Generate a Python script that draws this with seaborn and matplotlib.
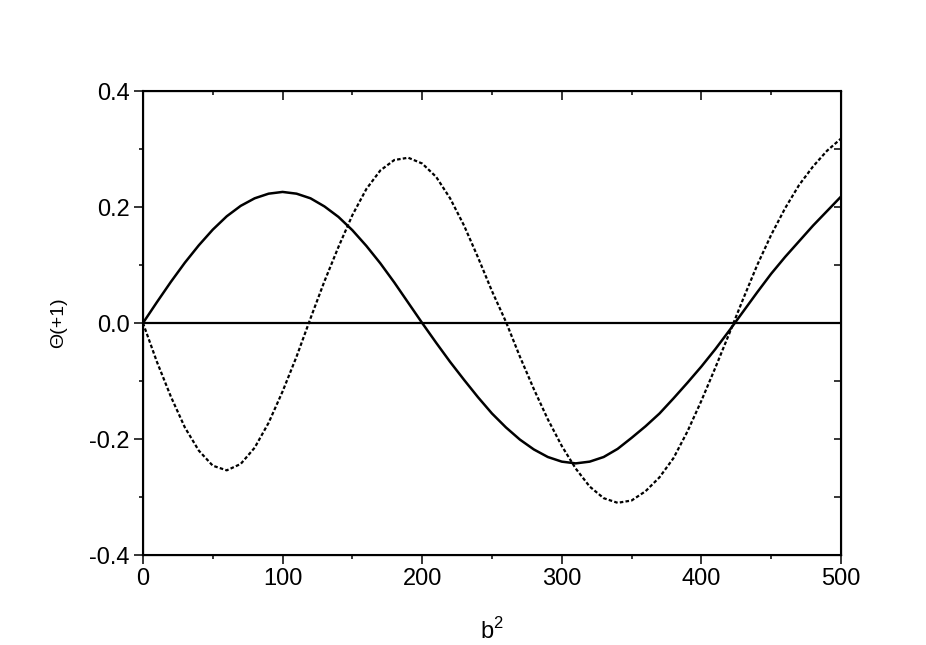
import numpy as np
import pandas as pd
import seaborn as sns
import matplotlib.pyplot as plt
from matplotlib.ticker import MultipleLocator

# values, b^2 every 10
b2 = list(range(0, 510, 10))

theta_solid = [0.000, 0.036, 0.071, 0.104, 0.134, 0.161, 0.184, 0.202, 0.215, 0.223,
               0.226, 0.223, 0.215, 0.201, 0.183, 0.160, 0.133, 0.103, 0.070, 0.035,
               0.000, -0.034, -0.067, -0.098, -0.128, -0.156, -0.180, -0.201, -0.218, -0.231,
               -0.239, -0.242, -0.239, -0.231, -0.217, -0.198, -0.178, -0.156, -0.130, -0.103,
               -0.075, -0.045, -0.013, 0.020, 0.053, 0.085, 0.114, 0.141, 0.168, 0.193,
               0.218]

theta_dotted = [0.000, -0.067, -0.127, -0.180, -0.220, -0.246, -0.254, -0.243, -0.215, -0.172,
                -0.118, -0.058, 0.008, 0.072, 0.131, 0.186, 0.231, 0.263, 0.281, 0.285,
                0.275, 0.252, 0.215, 0.168, 0.113, 0.055, 0.002, -0.058, -0.114, -0.166,
                -0.212, -0.251, -0.282, -0.302, -0.310, -0.306, -0.290, -0.266, -0.233, -0.187,
                -0.134, -0.077, -0.018, 0.042, 0.100, 0.152, 0.198, 0.238, 0.270, 0.297,
                0.318]

zero_x = [0, 500]
zero_y = [0.0, 0.0]

df = pd.DataFrame({"b2": b2, "solid": theta_solid, "dotted": theta_dotted})

sns.set_style("ticks", {"text.color": "black", "axes.labelcolor": "black",
                        "xtick.color": "black", "ytick.color": "black",
                        "axes.edgecolor": "black"})
plt.rcParams["font.family"] = ["Liberation Sans", "DejaVu Sans"]
plt.rcParams["mathtext.fontset"] = "custom"
plt.rcParams["mathtext.rm"] = "Liberation Sans"

fig = plt.figure(figsize=(9.26, 6.45), dpi=100)
ax = fig.add_axes([0.1544, 0.1395, 0.7538, 0.7194])

sns.lineplot(x=zero_x, y=zero_y, ax=ax, color="black", lw=1.6)
sns.lineplot(data=df, x="b2", y="solid", ax=ax, color="black", lw=1.8)
sns.lineplot(data=df, x="b2", y="dotted", ax=ax, color="black", lw=1.6,
             linestyle=(0, (1.6, 1.0)))

ax.set_xlim(0, 500)
ax.set_ylim(-0.4, 0.4)
ax.xaxis.set_major_locator(MultipleLocator(100))
ax.xaxis.set_minor_locator(MultipleLocator(50))
ax.yaxis.set_major_locator(MultipleLocator(0.2))
ax.yaxis.set_minor_locator(MultipleLocator(0.1))
ax.yaxis.set_major_formatter(plt.FuncFormatter(lambda v, p: f"{v:.1f}"))

ax.tick_params(which="major", direction="out", length=6.5, width=1.1, labelsize=17, pad=3)
ax.tick_params(which="minor", direction="out", length=3, width=1.1)
for s in ax.spines.values():
    s.set_linewidth(1.5)
    s.set_color("black")

# top and right axes carry inward ticks only
axt = ax.twiny()
axr = ax.twinx()
for a in (axt, axr):
    a.set_xlim(ax.get_xlim())
    a.set_ylim(ax.get_ylim())
axt.xaxis.set_major_locator(MultipleLocator(100))
axt.xaxis.set_minor_locator(MultipleLocator(50))
axr.yaxis.set_major_locator(MultipleLocator(0.2))
axr.yaxis.set_minor_locator(MultipleLocator(0.1))
axt.tick_params(which="major", direction="in", length=6.5, width=1.1, labeltop=False)
axt.tick_params(which="minor", direction="in", length=3, width=1.1)
axr.tick_params(which="major", direction="in", length=5, width=1.1, labelright=False)
axr.tick_params(which="minor", direction="in", length=5, width=1.1)

ax.set_xlabel(r"b$^\mathregular{2}$", fontsize=17, labelpad=20)
ax.set_ylabel("\u0398(+1)", fontsize=14, labelpad=16)

fig.savefig("out.png", dpi=100)
